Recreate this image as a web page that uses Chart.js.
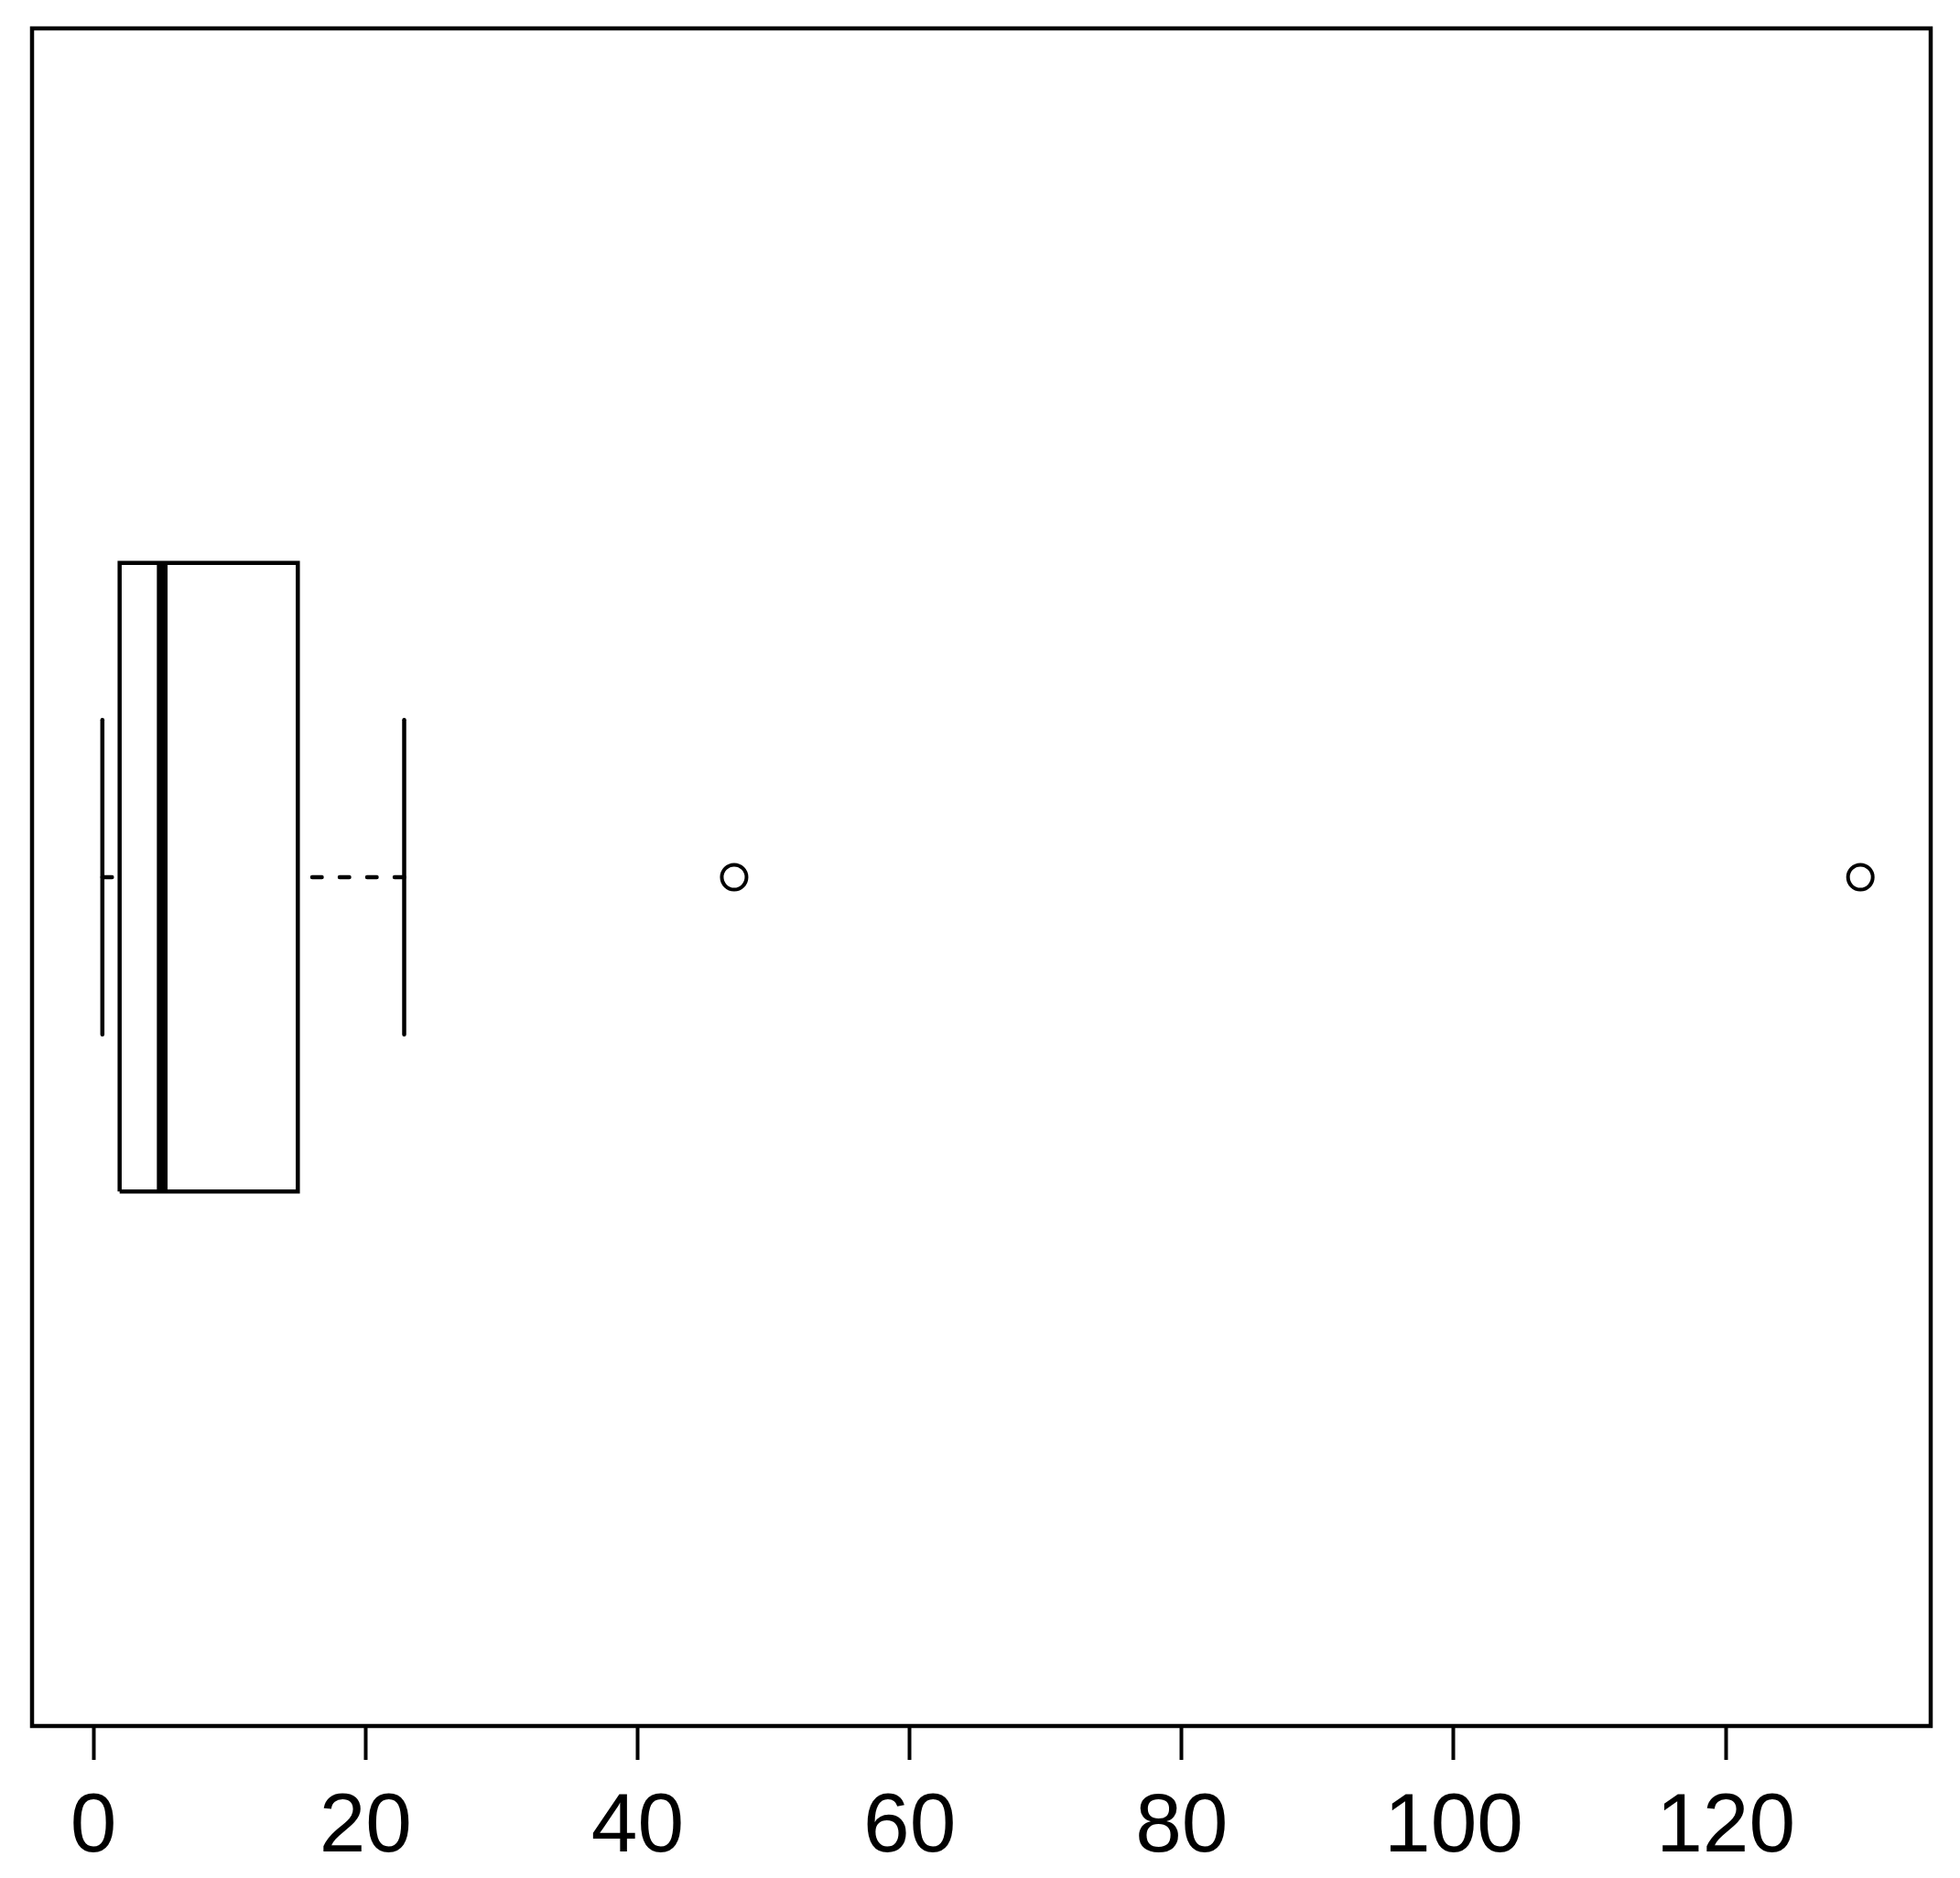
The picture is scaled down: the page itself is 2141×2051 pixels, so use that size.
<!DOCTYPE html>
<html>
<head>
<meta charset="utf-8">
<script src="https://cdn.jsdelivr.net/npm/chart.js@4"></script>
<style>
    html, body { margin: 0; padding: 0; background: #fff; }
    #wrap { width: 2141px; height: 2051px; }
</style>
</head>
<body>
<div id="wrap"><canvas id="boxChart"></canvas></div>
<script>
    // five-number summary: min whisker, Q1, median, Q3, max whisker
    const statNames = ['min', 'q1', 'median', 'q3', 'max'];
    const boxStats = [0.65, 1.92, 5.05, 15.02, 22.84];
    const outliers = [47.1, 129.9];
    const tickValues = [0, 20, 40, 60, 80, 100, 120];

    const s = {};
    statNames.forEach((n, i) => { s[n] = boxStats[i]; });

    // R style axis limits: data range widened by 4% on each side
    const lo = Math.min(s.min, ...outliers);
    const hi = Math.max(s.max, ...outliers);
    const pad = (hi - lo) * 0.04;

    // vertical position: one box at 1, axis 0.5..1.5 widened by 4%
    const at = 1, halfBox = 0.2, halfStaple = 0.1;

    const ink = '#000';
    const lineSet = (pts, extra) => Object.assign({
        data: pts, showLine: true, pointRadius: 0,
        borderColor: ink, borderWidth: 4.5, borderCapStyle: 'round', fill: false
    }, extra);

    const datasets = [
        lineSet([
            { x: s.q1, y: at - halfBox }, { x: s.q3, y: at - halfBox },
            { x: s.q3, y: at + halfBox }, { x: s.q1, y: at + halfBox },
            { x: s.q1, y: at - halfBox }
        ], { borderJoinStyle: 'miter', borderCapStyle: 'butt' }),
        lineSet([{ x: s.median, y: at - halfBox }, { x: s.median, y: at + halfBox }],
            { borderWidth: 11.7, borderCapStyle: 'butt' }),
        lineSet([{ x: s.min, y: at }, { x: s.q1, y: at }], { borderDash: [10.5, 19.5] }),
        lineSet([{ x: s.max, y: at }, { x: s.q3, y: at }], { borderDash: [10.5, 19.5] }),
        lineSet([{ x: s.min, y: at - halfStaple }, { x: s.min, y: at + halfStaple }]),
        lineSet([{ x: s.max, y: at - halfStaple }, { x: s.max, y: at + halfStaple }]),
        {
            data: outliers.map(v => ({ x: v, y: at })),
            showLine: false, pointStyle: 'circle', pointRadius: 13.5,
            pointBorderWidth: 4, pointBorderColor: ink, pointBackgroundColor: 'rgba(0,0,0,0)'
        }
    ];

    // plot frame like R's box()
    const frame = {
        id: 'frame',
        afterDatasetsDraw(chart) {
            const { ctx, chartArea: a } = chart;
            ctx.save();
            ctx.strokeStyle = ink;
            ctx.lineWidth = 4.5;
            ctx.strokeRect(a.left, a.top, a.right - a.left, a.bottom - a.top);
            ctx.restore();
        }
    };

    new Chart(document.getElementById('boxChart'), {
        type: 'scatter',
        data: { datasets },
        plugins: [frame],
        options: {
            responsive: true,
            maintainAspectRatio: false,
            devicePixelRatio: 1,
            animation: false,
            events: [],
            layout: { padding: { top: 31, right: 32, left: 35, bottom: 0 } },
            plugins: { legend: { display: false }, tooltip: { enabled: false } },
            scales: {
                x: {
                    type: 'linear',
                    min: lo - pad,
                    max: hi + pad,
                    afterBuildTicks: (scale) => { scale.ticks = tickValues.map(v => ({ value: v })); },
                    afterFit: (scale) => { scale.height = 166; },
                    border: { display: false },
                    grid: {
                        drawOnChartArea: false, drawTicks: true,
                        tickLength: 37, tickWidth: 4, tickColor: ink
                    },
                    ticks: {
                        color: ink, padding: 20, maxRotation: 0, autoSkip: false,
                        font: { family: "'Liberation Sans', Arial, sans-serif", size: 91 }
                    }
                },
                y: {
                    type: 'linear',
                    display: false,
                    min: 0.5 - 0.04,
                    max: 1.5 + 0.04
                }
            }
        }
    });
</script>
</body>
</html>
